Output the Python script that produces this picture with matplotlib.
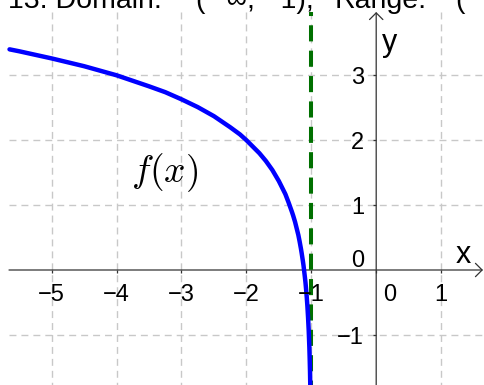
#coding:utf-8
# graph of f(x) with asymptote x = -1 (geogebra style)

import matplotlib
matplotlib.use('Agg')
import matplotlib.pyplot as plt
from matplotlib.patches import FancyArrowPatch

# ---- values ----
curve_x = [-5.65, -5.5, -5.0, -4.5, -4.0, -3.5, -3.25, -3.0, -2.75, -2.5, -2.25,
           -2.1, -2.0, -1.9, -1.8, -1.7, -1.6, -1.5, -1.45, -1.4, -1.35, -1.3,
           -1.28, -1.25, -1.22, -1.2, -1.18, -1.16, -1.15, -1.13, -1.12, -1.1,
           -1.09, -1.08, -1.07, -1.06, -1.05, -1.04, -1.03, -1.025, -1.02, -1.015]
curve_y = [3.40, 3.37, 3.26, 3.14, 3.00, 2.83, 2.74, 2.63, 2.51, 2.37, 2.20,
           2.09, 2.00, 1.90, 1.80, 1.68, 1.54, 1.37, 1.27, 1.17, 1.04, 0.90,
           0.84, 0.74, 0.62, 0.54, 0.44, 0.33, 0.27, 0.14, 0.07, -0.10,
           -0.19, -0.30, -0.42, -0.56, -0.73, -0.93, -1.19, -1.36, -1.56, -1.82]
asymptote_x = -1
x_ticks = [-5, -4, -3, -2, -1, 1]
y_ticks = [-1, 1, 2, 3]
x_tick_labels = ['−5', '−4', '−3', '−2', '−1', '1']
y_tick_labels = ['−1', '1', '2', '3']
func_label = r'$f(x)$'
title_parts = ['13. Domain:', '(', '−∞,', '−1),', 'Range:', '(', '−∞, ∞)']
title_px = [8, 195, 211, 265, 335, 455, 471]

W, H = 485, 385
ox, oy = 376.2, 270.0     # origin in pixels
unit = 64.9               # pixels per unit


def px2x(p):
    return (p - ox) / unit


def px2y(p):
    return (oy - p) / unit


plt.rcParams['mathtext.fontset'] = 'cm'
fig = plt.figure(figsize=(W / 100, H / 100), dpi=100)
ax = fig.add_axes([0, 0, 1, 1])
ax.set_xlim(px2x(0), px2x(W))
ax.set_ylim(px2y(H), px2y(0))
ax.axis('off')

left, top = px2x(9), px2y(12)
bottom, right = px2y(H), px2x(W)

# grid
grid_kw = dict(color='#c8c8c8', lw=1.0, ls=(0, (5, 3.6)), zorder=1)
for gx in range(-5, 2):
    if gx != 0:
        ax.plot([gx, gx], [top, bottom], **grid_kw)
for gy in range(-1, 4):
    if gy != 0:
        ax.plot([left, right], [gy, gy], **grid_kw)

# axes with open arrow heads
ax_col = '#333333'
arr_x = FancyArrowPatch((left, 0), (px2x(483), 0),
                        arrowstyle='->,head_length=0.4,head_width=0.4',
                        mutation_scale=12, color=ax_col, lw=0.9,
                        shrinkA=0, shrinkB=0, zorder=2)
arr_y = FancyArrowPatch((0, bottom), (0, top),
                        arrowstyle='->,head_length=0.4,head_width=0.4',
                        mutation_scale=12, color=ax_col, lw=0.9,
                        shrinkA=0, shrinkB=0, zorder=2)
ax.add_patch(arr_x)
ax.add_patch(arr_y)
ax.plot(x_ticks + [0], [0] * (len(x_ticks) + 1), ls='none', marker=3,
        markersize=2.5, mew=0.9, color=ax_col, zorder=2)
ax.plot([0] * len(y_ticks), y_ticks, ls='none', marker=0,
        markersize=2.5, mew=0.9, color=ax_col, zorder=2)

# tick labels
tk = dict(fontsize=17, family='Liberation Sans', color='black', zorder=5)
for v, s in zip(x_ticks, x_tick_labels):
    ax.text(v, px2y(301), s, ha='center', va='baseline', **tk)
ax.text(px2x(390), px2y(301), '0', ha='center', va='baseline', **tk)
for v, s in zip(y_ticks, y_tick_labels):
    ax.text(px2x(364), v - 9 / unit, s, ha='right', va='baseline', **tk)
ax.text(px2x(364), px2y(267), '0', ha='right', va='baseline', **tk)

# axis names
ax.text(px2x(463), px2y(263), 'x', ha='center', va='baseline',
        fontsize=22, family='Liberation Sans', zorder=5)
ax.text(px2x(390), px2y(51), 'y', ha='center', va='baseline',
        fontsize=22, family='Liberation Sans', zorder=5)

# asymptote
ax.plot([asymptote_x, asymptote_x], [top, bottom], color='#007000', lw=2.9,
        ls=(3.0, (4.0, 2.3)), zorder=3)

# function
ax.plot(curve_x, curve_y, color='#0000ff', lw=3.2, solid_capstyle='round',
        solid_joinstyle='round', zorder=4)

ax.text(px2x(165), px2y(173), func_label, ha='center', va='center',
        fontsize=27, zorder=5)

# title, mostly cut off at the top
for s, p in zip(title_parts, title_px):
    fig.text(p / W, 1 - 8 / H, s, ha='left', va='baseline', fontsize=20.5,
             family='Liberation Sans')

fig.savefig('out.png', dpi=100)
